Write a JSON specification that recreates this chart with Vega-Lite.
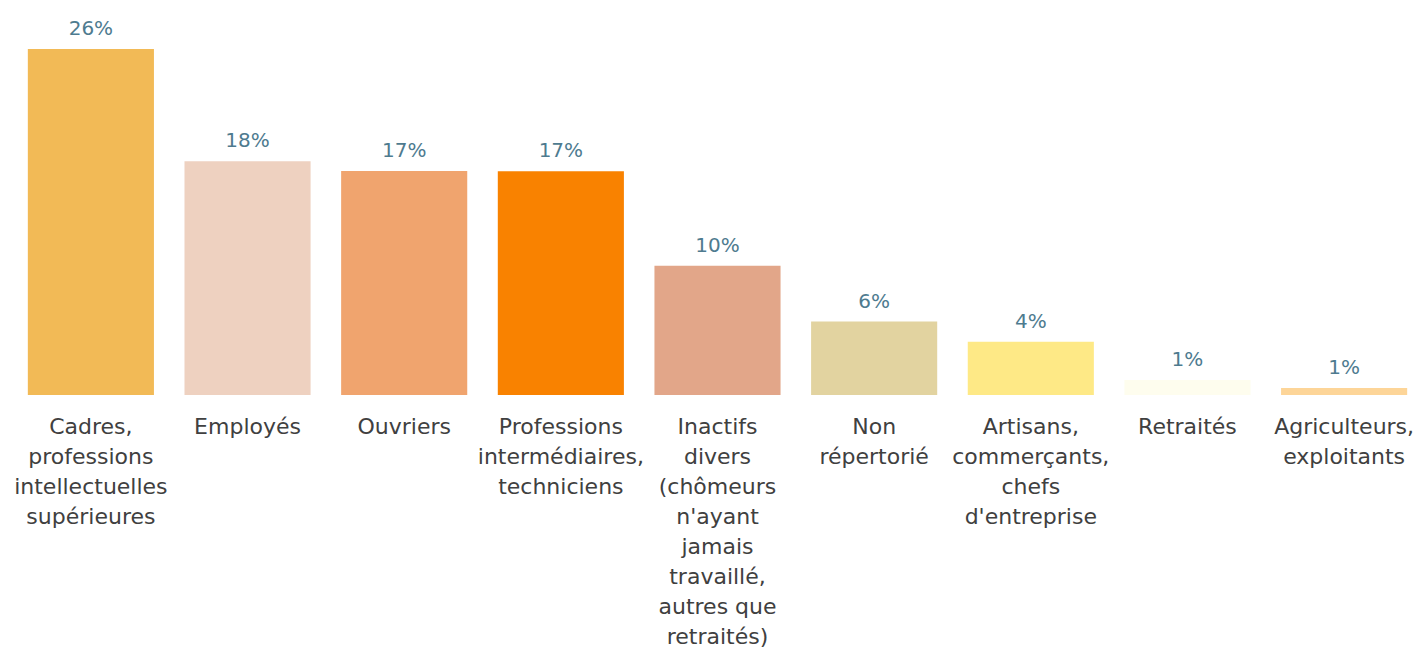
{
  "$schema": "https://vega.github.io/schema/vega-lite/v6.json",
  "autosize": {"type": "none"},
  "width": 1395,
  "height": 346,
  "padding": {"left": 20, "top": 49, "right": 0, "bottom": 255},
  "background": "white",
  "config": {"view": {"stroke": null}},
  "data": {
    "values": [
      {"categorie": "Cadres,\nprofessions\nintellectuelles\nsupérieures", "part": 0.26, "couleur": "#F2BA56"},
      {"categorie": "Employés", "part": 0.1756, "couleur": "#EED1C0"},
      {"categorie": "Ouvriers", "part": 0.1684, "couleur": "#F0A46E"},
      {"categorie": "Professions\nintermédiaires,\ntechniciens", "part": 0.1682, "couleur": "#F98200"},
      {"categorie": "Inactifs\ndivers\n(chômeurs\nn'ayant\njamais\ntravaillé,\nautres que\nretraités)", "part": 0.0972, "couleur": "#E2A689"},
      {"categorie": "Non\nrépertorié", "part": 0.0552, "couleur": "#E2D3A0"},
      {"categorie": "Artisans,\ncommerçants,\nchefs\nd'entreprise", "part": 0.04, "couleur": "#FEE986"},
      {"categorie": "Retraités", "part": 0.0113, "couleur": "#FEFDEE"},
      {"categorie": "Agriculteurs,\nexploitants", "part": 0.0053, "couleur": "#FDD598"}
    ]
  },
  "encoding": {
    "x": {
      "field": "categorie",
      "type": "nominal",
      "sort": null,
      "scale": {"paddingInner": 0.195, "paddingOuter": 0.05},
      "axis": {
        "title": null,
        "domain": false,
        "ticks": false,
        "labelAngle": 0,
        "labelFont": "DejaVu Sans",
        "labelFontSize": 22,
        "labelColor": "#404040",
        "labelLineHeight": 30,
        "labelPadding": 21,
        "labelLimit": 0,
        "labelOverlap": false,
        "labelExpr": "split(datum.value, '\\n')"
      }
    },
    "y": {
      "field": "part",
      "type": "quantitative",
      "scale": {"domain": [0, 0.26], "nice": false, "zero": true},
      "axis": null
    }
  },
  "layer": [
    {
      "mark": {"type": "bar"},
      "encoding": {
        "color": {"field": "couleur", "type": "nominal", "scale": null}
      }
    },
    {
      "mark": {"type": "text", "baseline": "alphabetic", "dy": -14, "font": "DejaVu Sans", "fontSize": 20, "color": "#4E7B8F"},
      "encoding": {
        "text": {"field": "part", "type": "quantitative", "format": ".0%"}
      }
    }
  ]
}
